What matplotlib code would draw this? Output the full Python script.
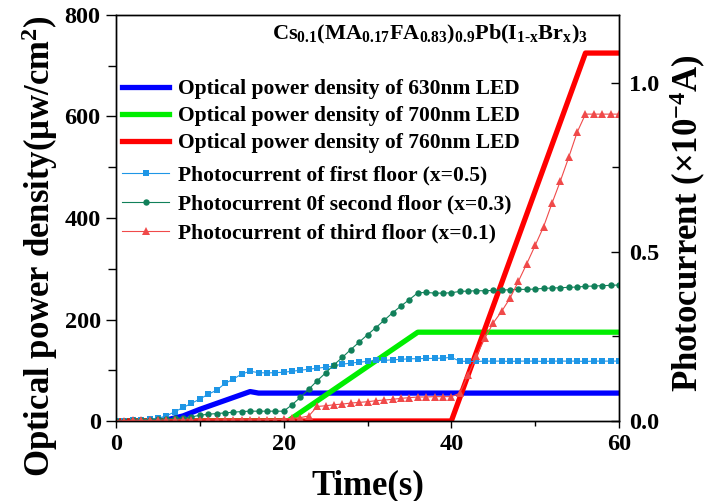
import matplotlib
matplotlib.use("Agg")
import matplotlib.pyplot as plt
from matplotlib.ticker import MultipleLocator

plt.rcParams['font.family'] = ['Liberation Serif', 'DejaVu Serif']
plt.rcParams['font.weight'] = 'bold'
plt.rcParams['mathtext.fontset'] = 'custom'
plt.rcParams['mathtext.rm'] = 'Liberation Serif:bold'
plt.rcParams['mathtext.it'] = 'Liberation Serif:bold'
plt.rcParams['mathtext.bf'] = 'Liberation Serif:bold'
plt.rcParams['mathtext.default'] = 'rm'

# ---- LED optical power density (left axis, µW/cm2), vertices of each trace
t_630 = [0, 4, 6, 8, 10, 16, 17, 60]
p_630 = [0, 0, 2, 10, 23, 58, 55, 55]
t_700 = [0, 20.5, 36, 60]
p_700 = [0, 0, 175, 175]
t_760 = [0, 40, 56, 60]
p_760 = [0, 0, 725, 725]

# ---- Photocurrent (right axis, x1e-4 A), sampled every second
time_s = list(range(61))
pc_first = [0.000, 0.001, 0.002, 0.003, 0.005, 0.008, 0.015, 0.027, 0.040, 0.052,
            0.065, 0.079, 0.091, 0.111, 0.124, 0.139, 0.147, 0.143, 0.142, 0.143,
            0.144, 0.147, 0.150, 0.153, 0.156, 0.159, 0.163, 0.168, 0.171, 0.174,
            0.176, 0.179, 0.179, 0.181, 0.182, 0.184, 0.184, 0.185, 0.185, 0.186,
            0.188, 0.177, 0.176, 0.176, 0.177, 0.177, 0.177, 0.176, 0.177, 0.177,
            0.177, 0.176, 0.177, 0.177, 0.177, 0.177, 0.176, 0.177, 0.177, 0.177,
            0.177]
pc_second = [0.000, 0.001, 0.002, 0.003, 0.004, 0.005, 0.006, 0.008, 0.009, 0.012,
             0.017, 0.020, 0.022, 0.024, 0.026, 0.028, 0.029, 0.029, 0.029, 0.029,
             0.029, 0.048, 0.070, 0.094, 0.119, 0.142, 0.166, 0.188, 0.211, 0.233,
             0.255, 0.276, 0.298, 0.320, 0.340, 0.359, 0.379, 0.380, 0.378, 0.378,
             0.379, 0.383, 0.384, 0.385, 0.385, 0.386, 0.387, 0.388, 0.389, 0.389,
             0.390, 0.392, 0.393, 0.394, 0.395, 0.396, 0.398, 0.399, 0.400, 0.401,
             0.402]
pc_third = [0.000, 0.001, 0.002, 0.002, 0.002, 0.002, 0.003, 0.003, 0.003, 0.003,
            0.003, 0.003, 0.003, 0.003, 0.003, 0.003, 0.003, 0.003, 0.004, 0.004,
            0.005, 0.008, 0.010, 0.015, 0.043, 0.045, 0.048, 0.050, 0.053, 0.055,
            0.057, 0.060, 0.062, 0.064, 0.067, 0.069, 0.071, 0.071, 0.072, 0.072,
            0.072, 0.082, 0.136, 0.192, 0.245, 0.290, 0.324, 0.363, 0.413, 0.465,
            0.519, 0.574, 0.643, 0.709, 0.779, 0.853, 0.907, 0.907, 0.907, 0.907,
            0.907]

led_labels = ["Optical power density of 630nm LED",
              "Optical power density of 700nm LED",
              "Optical power density of 760nm LED"]
pc_labels = ["Photocurrent of first floor (x=0.5)",
             "Photocurrent 0f second floor (x=0.3)",
             "Photocurrent of third floor (x=0.1)"]

x_ticks = [0, 20, 40, 60]
left_ticks = [0, 200, 400, 600, 800]
right_ticks = [0.0, 0.5, 1.0]

fig = plt.figure(figsize=(7.07, 5.01), dpi=100)
W, H = 707, 501
L, R, B, T = 116, 619, 421, 15
ax = fig.add_axes([L / W, 1 - B / H, (R - L) / W, (B - T) / H])
ax2 = ax.twinx()

l1, = ax.plot(t_630, p_630, color='#0000FF', lw=3.8, solid_joinstyle='round')
l2, = ax.plot(t_700, p_700, color='#00EE00', lw=3.8)
l3, = ax.plot(t_760, p_760, color='#FF0000', lw=3.8)

m1, = ax2.plot(time_s, pc_first, color='#1E96E6', lw=0.8, marker='s', ms=4.4, mew=0)
m2, = ax2.plot(time_s, pc_second, color='#11805A', lw=0.8, marker='o', ms=4.6, mew=0)
m3, = ax2.plot(time_s, pc_third, color='#F04A4A', lw=0.8, marker='^', ms=5.4, mew=0)

ax.set_xlim(0, 60)
ax.set_ylim(0, 800)
ax2.set_ylim(0, 1.2)
ax.set_xticks(x_ticks)
ax.set_yticks(left_ticks)
ax2.set_yticks(right_ticks)
ax2.set_yticklabels([f"{v:.1f}" for v in right_ticks])
ax.xaxis.set_minor_locator(MultipleLocator(10))
ax.yaxis.set_minor_locator(MultipleLocator(100))
ax2.yaxis.set_minor_locator(MultipleLocator(0.25))

ax.tick_params(axis='x', which='major', direction='out', length=5, width=1, labelsize=17.5, pad=4)
ax.tick_params(axis='x', which='minor', direction='out', length=3.5, width=1)
ax.tick_params(axis='y', which='major', direction='out', length=7, width=1, labelsize=17.5, pad=4)
ax.tick_params(axis='y', which='minor', direction='out', length=6, width=1)
ax2.tick_params(axis='y', which='major', direction='in', length=6, width=1, labelsize=17.5, pad=7)
ax2.tick_params(axis='y', which='minor', direction='in', length=5, width=1)
for a in (ax, ax2):
    for s in a.spines.values():
        s.set_linewidth(1.0)

ax.set_xlabel("Time(s)", fontsize=25, fontweight='bold')
ax.xaxis.set_label_coords(0.5, -(486 - B) / (B - T))
ax.xaxis.label.set_va('center')
ax.set_ylabel("Optical power density(μw/cm$^{2}$)", fontsize=25, fontweight='bold')
ax.yaxis.set_label_coords((40 - L) / (R - L), 1 - (246 - T) / (B - T))
ax.yaxis.label.set_va('center')
ax2.set_ylabel("Photocurrent (×10$^{-4}$A)", fontsize=25, fontweight='bold')
ax2.yaxis.set_label_coords((688 - L) / (R - L), 1 - (223 - T) / (B - T))
ax2.yaxis.label.set_va('center')

ax.text((430 - L) / (R - L), 1 - (34 - T) / (B - T),
        r"Cs$_{0.1}$(MA$_{0.17}$FA$_{0.83}$)$_{0.9}$Pb(I$_{1\text{-}x}$Br$_{x}$)$_{3}$",
        transform=ax.transAxes, ha='center', va='center', fontsize=16, fontweight='bold')

leg_kw = dict(loc='upper left', frameon=False, borderpad=0, borderaxespad=0,
              handlelength=2.2, handletextpad=0.4,
              prop={'family': 'Liberation Serif', 'weight': 'bold', 'size': 15.5},
              bbox_transform=fig.transFigure)
leg1 = ax2.legend([l1, l2, l3], led_labels, bbox_to_anchor=(122 / W, 1 - 79 / H),
                  labelspacing=0.33, **leg_kw)
ax2.add_artist(leg1)
leg2 = ax2.legend([m1, m2, m3], pc_labels, bbox_to_anchor=(122 / W, 1 - 165 / H),
                  labelspacing=0.42, **leg_kw)

fig.savefig("out.png", dpi=100)
